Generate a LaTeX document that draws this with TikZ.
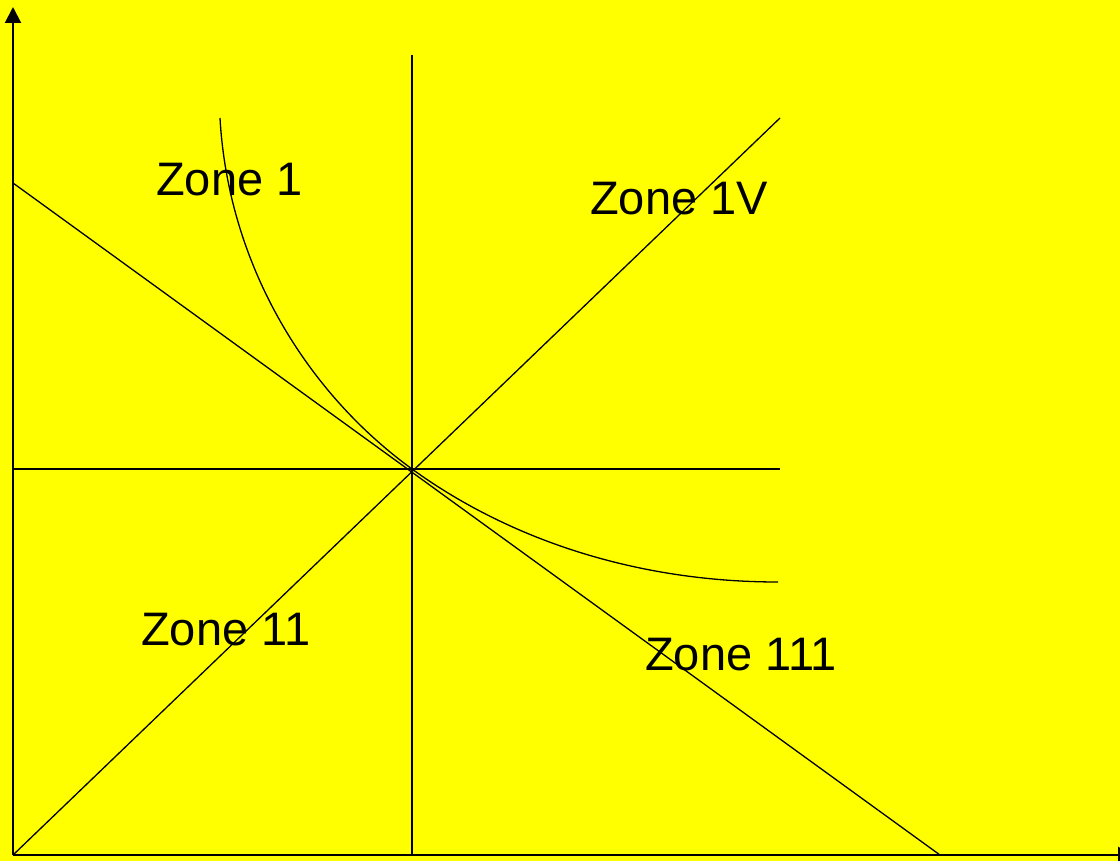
\documentclass[tikz,border=0pt]{standalone}
\usepackage{fontspec}
\setmainfont{Liberation Sans}
\usetikzlibrary{arrows.meta}
\definecolor{bgyellow}{RGB}{255,255,0}
\begin{document}
\begin{tikzpicture}[x=1pt,y=-1pt,
  thinline/.style={line width=1.3pt,black},
  axisline/.style={line width=2pt,black},
  zonelabel/.style={anchor=base west,inner sep=0pt,font=\fontsize{47}{54}\selectfont}]
\fill[bgyellow] (0,0) rectangle (1120,861);
\useasboundingbox (0,0) rectangle (1120,861);
% coordinates
\coordinate (O) at (13,855);
\coordinate (Ytop) at (13,7);
\coordinate (Xend) at (1134,855);
\coordinate (C) at (412,469);
\coordinate (Vtop) at (412,55);
\coordinate (Vbot) at (412,855);
\coordinate (Hleft) at (13,469);
\coordinate (Hright) at (780,469);
\coordinate (Dup) at (780,118);
\coordinate (Dl) at (13,183);
\coordinate (Dr) at (940,855);
\coordinate (Cs) at (220,118);
\coordinate (Ce) at (778,582);
% axes
\draw[axisline,-{Triangle[width=16pt,length=16pt]}] (O) -- (Ytop);
\draw[axisline,-{Triangle[width=16pt,length=16pt]}] (O) -- (Xend);
% lines
\draw[thinline] (Vbot) -- (Vtop);
\draw[thinline] (Hleft) -- (Hright);
\draw[thinline] (O) -- (Dup);
\draw[thinline] (Dl) -- (Dr);
\draw[thinline] (Cs) .. controls (228,260) and (302,389) .. (C)
  .. controls (512,541.5) and (640,582) .. (Ce);
% labels
\node[zonelabel] (z1) at (156,196) {Zone 1};
\node[zonelabel] (z4) at (590,215) {Zone 1V};
\node[zonelabel] (z2) at (141,645) {Zone 11};
\node[zonelabel] (z3) at (645,670) {Zone 111};
\end{tikzpicture}
\end{document}
